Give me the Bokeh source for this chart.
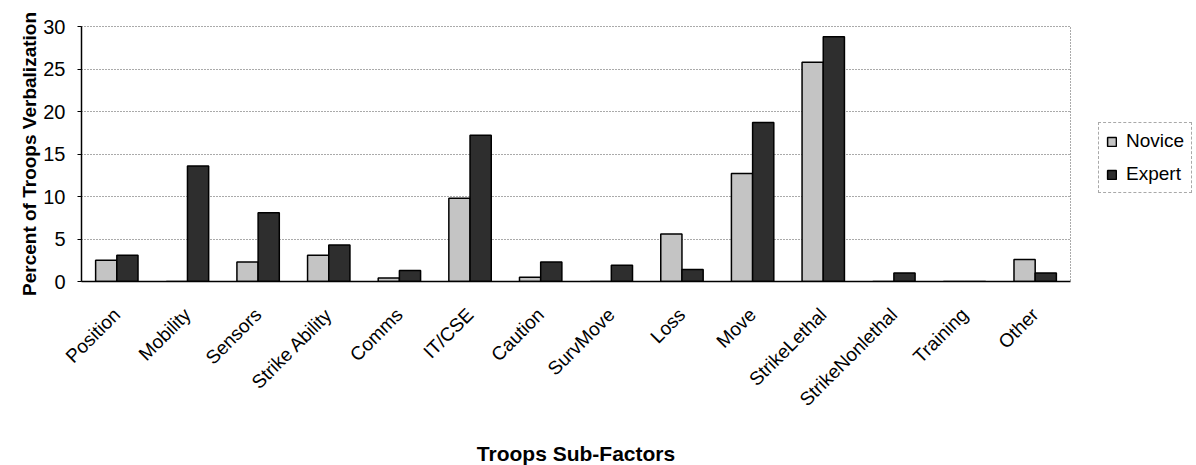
from bokeh.plotting import figure
from bokeh.models import ColumnDataSource, FactorRange, Legend, LegendItem, Range1d, SingleIntervalTicker
from bokeh.transform import dodge
from bokeh.embed import file_html
from bokeh.resources import INLINE
import math

categories = ["Position", "Mobility", "Sensors", "Strike Ability", "Comms", "IT/CSE", "Caution",
              "SurvMove", "Loss", "Move", "StrikeLethal", "StrikeNonlethal", "Training", "Other"]
novice = [2.5, 0.0, 2.3, 3.1, 0.4, 9.8, 0.5, 0.0, 5.6, 12.7, 25.8, 0.0, 0.0, 2.6]
expert = [3.1, 13.6, 8.1, 4.3, 1.3, 17.2, 2.3, 1.9, 1.4, 18.7, 28.8, 1.0, 0.0, 1.0]

src = ColumnDataSource(dict(cat=categories, novice=novice, expert=expert))

p = figure(x_range=FactorRange(*categories), y_range=Range1d(0, 30),
           frame_width=989, frame_height=255, output_backend="svg", toolbar_location=None,
           min_border_left=81, min_border_top=26, min_border_bottom=176, min_border_right=118)

rn = p.vbar(x=dodge("cat", -0.15, range=p.x_range), top="novice", width=0.3, source=src,
            fill_color="#c4c4c4", line_color="black", line_width=1.5)
re = p.vbar(x=dodge("cat", 0.15, range=p.x_range), top="expert", width=0.3, source=src,
            fill_color="#2e2e2e", line_color="black", line_width=1.5)

p.yaxis.ticker = SingleIntervalTicker(interval=5)
p.yaxis.minor_tick_line_color = None
p.yaxis.major_label_text_font = "Liberation Sans"
p.yaxis.major_label_text_font_size = "20px"
p.yaxis.major_label_text_color = "black"
p.yaxis.axis_line_color = "black"
p.yaxis.axis_line_width = 1.5
p.yaxis.major_tick_in = 0
p.yaxis.major_tick_out = 4
p.yaxis.major_label_standoff = 12
p.yaxis.axis_label = "Percent of Troops Verbalization"
p.yaxis.axis_label_text_font = "Liberation Sans"
p.yaxis.axis_label_text_font_style = "bold"
p.yaxis.axis_label_text_font_size = "19px"
p.yaxis.axis_label_text_color = "black"
p.yaxis.axis_label_standoff = 0

p.xaxis.major_label_orientation = math.pi / 4
p.xaxis.major_label_text_font = "Liberation Sans"
p.xaxis.major_label_text_font_size = "19px"
p.xaxis.major_label_text_color = "black"
p.xaxis.axis_line_color = "black"
p.xaxis.axis_line_width = 1.5
p.xaxis.major_tick_line_color = None
p.xaxis.major_label_standoff = 24
p.xaxis.axis_label = "Troops Sub-Factors"
p.xaxis.axis_label_text_font = "Liberation Sans"
p.xaxis.axis_label_text_font_style = "bold"
p.xaxis.axis_label_text_font_size = "21px"
p.xaxis.axis_label_text_color = "black"
p.xaxis.axis_label_standoff = 22

p.xgrid.grid_line_color = None
p.ygrid.grid_line_color = "#555555"
p.ygrid.grid_line_dash = "1 2"
p.ygrid.grid_line_width = 1
p.outline_line_color = "#555555"
p.outline_line_dash = "1 2"
p.x_range.range_padding = 0

legend = Legend(items=[LegendItem(label="Novice", renderers=[rn]),
                       LegendItem(label="Expert", renderers=[re])],
                location=(28, 88), label_text_font="Liberation Sans", label_text_font_size="19px",
                label_text_color="black",
                glyph_width=11, glyph_height=11, spacing=11, padding=7, margin=0, label_height=22,
                border_line_color="#555555", border_line_dash="1 2", label_standoff=9)
p.add_layout(legend, "right")

open("out.html", "w").write(file_html(p, INLINE))
